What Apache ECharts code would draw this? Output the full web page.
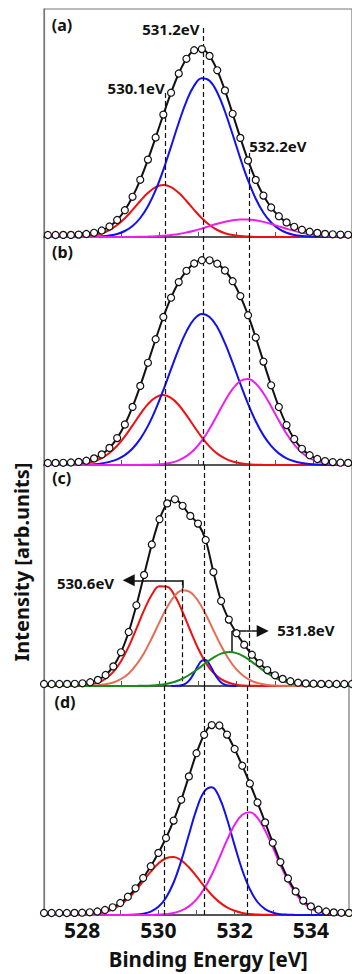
<!DOCTYPE html>
<html><head><meta charset="utf-8">
<script src="https://cdn.jsdelivr.net/npm/echarts@6.0.0/dist/echarts.min.js"></script>
<style>html,body{margin:0;padding:0;background:#fff;}#chart{width:352px;height:974px;}</style>
</head><body><div id="chart"></div>
<script>
// Binding energy grids (eV)
const energyAB = [527.1,527.3,527.5,527.7,527.9,528.1,528.3,528.5,528.7,528.9,529.1,529.3,529.5,529.7,529.9,530.1,530.3,530.5,530.7,530.9,531.1,531.3,531.5,531.7,531.9,532.1,532.3,532.5,532.7,532.9,533.1,533.3,533.5,533.7,533.9,534.1,534.3,534.5,534.7,534.9];
const energyCD = [527.0,527.2,527.4,527.6,527.8,528.0,528.2,528.4,528.6,528.8,529.0,529.2,529.4,529.6,529.8,530.0,530.2,530.4,530.6,530.8,531.0,531.2,531.4,531.6,531.8,532.0,532.2,532.4,532.6,532.8,533.0,533.2,533.4,533.6,533.8,534.0,534.2,534.4,534.6,534.8,535.0];
const energyFine = [530.3,530.4,530.5,530.6,530.7,530.8,530.9,531.0,531.1,531.2,531.3,531.4,531.5,531.6,531.7,531.8,531.9,532.0];

// Panel (a)
const aTotal = [2.0,2.0,2.1,2.1,2.4,3.0,4.2,6.5,10.5,17.0,26.8,40.2,57.2,77.4,99.5,122.4,144.3,163.5,178.2,186.8,187.9,181.1,166.7,146.6,123.2,99.1,76.6,57.1,41.4,29.5,20.8,14.6,10.2,7.3,5.3,4.1,3.1,2.7,2.4,2.2];
const aRed = [0,0,0.1,0.1,0.4,0.9,1.9,3.8,7.0,12.0,18.7,27.1,36.0,44.2,49.9,52.0,49.9,44.2,36.0,27.1,18.7,12.0,7.0,3.8,1.9,0.9,0.4,0.1,0,0,0,0,0,0,0,0,0,0,0,0];
const aBlue = [0,0,0,0,0,0.1,0.3,0.7,1.5,3.0,6.0,11.0,19.0,30.8,46.9,67.2,90.4,114.3,135.7,151.4,158.7,156.2,144.5,125.5,102.5,78.6,56.6,38.3,24.3,14.5,8.2,4.3,2.1,1.0,0.4,0.2,0,0,0,0];
const aMagenta = [0,0,0,0,0,0,0,0,0,0,0.1,0.1,0.2,0.4,0.7,1.2,2.0,3.0,4.5,6.3,8.5,10.9,13.2,15.3,16.8,17.6,17.6,16.7,15.1,13.0,10.6,8.3,6.1,4.3,2.9,1.9,1.1,0.7,0.4,0.2];

// Panel (b)
const bTotal = [2.0,2.1,2.2,2.5,3.1,4.3,6.6,10.6,17.1,26.9,40.5,58.1,79.1,102.2,125.8,148.0,167.3,182.9,194.2,201.5,204.8,204.7,201.3,194.5,183.8,168.9,149.8,127.5,103.4,79.7,58.0,39.9,26.0,16.2,9.8,6.0,3.9,2.9,2.3,2.1];
const bRed = [0,0.1,0.2,0.4,0.9,1.9,3.8,7.0,12.0,19.2,28.6,39.6,50.9,60.9,67.7,70.0,67.2,60.0,49.8,38.5,27.6,18.4,11.4,6.6,3.5,1.8,0.8,0.3,0.1,0,0,0,0,0,0,0,0,0,0,0];
const bBlue = [0,0,0,0.1,0.2,0.4,0.8,1.6,3.1,5.7,9.9,16.5,26.1,39.1,55.6,74.9,95.8,116.2,133.6,145.8,150.9,148.1,137.9,121.8,102.1,81.1,61.1,43.7,29.6,19.1,11.6,6.7,3.7,1.9,0.9,0.4,0.2,0.1,0,0];
const bMagenta = [0,0,0,0,0,0,0,0,0,0,0,0,0.1,0.2,0.5,1.1,2.3,4.7,8.8,15.2,24.3,36.2,50.0,64.1,76.2,84.0,85.9,81.5,71.7,58.6,44.4,31.2,20.3,12.3,6.9,3.6,1.7,0.8,0.3,0.1];

// Panel (c)
const cTotal = [2.0,2.0,2.0,2.1,2.2,2.7,3.8,6.1,11.0,19.6,33.7,54.0,80.7,111.1,141.5,166.8,182.6,186.7,180.2,170.1,162.4,146.0,113.9,85.0,66.4,52.8,41.3,31.3,22.9,15.9,10.7,7.1,4.8,3.3,2.6,2.3,2.1,2.0,2.0,2.0,2.0];
const cRed = [0,0,0,0.1,0.2,0.6,1.5,3.4,7.3,14.1,24.7,39.4,57.3,75.8,91.2,99.7,99.3,89.9,74.0,55.5,37.8,23.4,13.2,6.8,3.2,1.3,0.5,0.2,0.1,0,0,0,0,0,0,0,0,0,0,0,0];
const cCoral = [0,0,0,0,0,0.1,0.3,0.7,1.7,3.5,7.0,12.6,21.3,33.1,47.8,63.9,79.0,90.4,95.8,93.9,85.3,71.7,55.8,40.2,26.8,16.6,9.5,5.0,2.5,1.1,0.5,0.2,0.1,0,0,0,0,0,0,0,0];
const cBlue = [0,0.1,0.3,1.0,3.0,6.9,13.1,20.2,25.3,25.9,21.5,14.5,8.0,3.6,1.3,0.4,0.1,0];
const cGreen = [0,0,0,0,0,0,0,0,0,0,0,0,0.1,0.2,0.5,1.2,2.3,4.3,7.4,11.8,17.1,23.0,28.4,32.4,34.0,32.9,29.3,24.1,18.3,12.8,8.2,4.9,2.7,1.3,0.6,0.3,0.1,0,0,0,0];

// Panel (d)
const dTotal = [2.0,2.0,2.0,2.0,2.1,2.3,2.7,3.5,5.0,7.7,12.0,18.3,26.7,37.0,48.8,62.1,77.0,94.4,115.2,138.6,161.8,180.2,189.9,189.5,180.4,166.0,149.3,131.5,112.5,92.6,72.3,52.9,36.5,23.6,14.4,8.6,5.3,3.5,2.6,2.2,2.1];
const dRed = [0,0,0,0,0.1,0.3,0.7,1.5,3.0,5.7,10.0,16.2,24.3,33.7,43.3,51.5,56.8,57.9,54.6,47.7,38.6,28.9,20.0,12.9,7.6,4.2,2.1,1.0,0.4,0.2,0.1,0,0,0,0,0,0,0,0,0,0];
const dBlue = [0,0,0,0,0,0,0,0,0,0,0,0.1,0.4,1.3,3.4,8.2,17.3,32.5,54.2,80.3,105.6,123.2,127.7,117.5,96.0,69.6,44.9,25.7,13.0,5.9,2.4,0.8,0.3,0.1,0,0,0,0,0,0,0];
const dMagenta = [0,0,0,0,0,0,0,0,0,0,0,0,0,0,0.1,0.4,0.9,2.0,4.4,8.6,15.6,26.1,40.2,57.1,74.8,90.2,100.3,102.8,97.1,84.5,67.8,50.1,34.2,21.5,12.4,6.6,3.3,1.5,0.6,0.2,0.1];

// Reference (dashed) peak lines, eV, per panel
const peakLinesA = [530.16, 531.14, 532.32];
const peakLinesB = [530.16, 531.14, 532.32];
const peakLinesC = [530.16, 531.17, 532.32];
const peakLinesD = [530.16, 531.21, 532.32];
const shiftLineC = 530.6;
const greenPeakC = 531.885;
const xTickLabels = [528, 530, 532, 534];
const panelLabels = ['(a)', '(b)', '(c)', '(d)'];
const peakTexts = ['531.2eV', '530.1eV', '532.2eV', '530.6eV', '531.8eV'];

const FONT = "'Noto Sans', 'Open Sans', sans-serif";
const RED = '#EE1111', BLUE = '#1111EE', MAG = '#EE1EEE', CORAL = '#E46E55', GREEN = '#1A8A1A', BLK = '#111';

const chart = echarts.init(document.getElementById('chart'), null, {renderer: 'svg'});
const pairs = (xs, ys) => xs.map((x, i) => [x, ys[i]]);

const gridDefs = [
  {top: 9, height: 228},
  {top: 237, height: 228},
  {top: 465, height: 221},
  {top: 686, height: 229}
];
const yMax = gridDefs.map(g => g.height);

const grid = gridDefs.map(g => ({left: 44, top: g.top, width: 310, height: g.height,
  show: true, borderColor: '#777', borderWidth: 1.2, backgroundColor: 'transparent'}));

const xAxis = gridDefs.map((g, i) => ({
  type: 'value', gridIndex: i, min: 527, max: 535, interval: 1,
  axisLine: {show: true, lineStyle: {color: '#555', width: 2}},
  axisTick: {show: true, inside: true, length: 5, lineStyle: {color: '#555', width: 1}},
  splitLine: {show: false},
  axisLabel: {show: i === 3, margin: 4, color: BLK, fontSize: 21, fontWeight: 'bold', fontFamily: FONT,
    formatter: v => (xTickLabels.indexOf(v) >= 0 ? String(v) : '')}
}));
const yAxis = gridDefs.map((g, i) => ({
  type: 'value', gridIndex: i, min: 0, max: yMax[i],
  axisLine: {show: true, lineStyle: {color: '#777', width: 1.2}},
  axisTick: {show: false}, axisLabel: {show: false}, splitLine: {show: false}
}));

function comp(gi, xs, ys, color, z) {
  return {type: 'line', xAxisIndex: gi, yAxisIndex: gi, data: pairs(xs, ys), smooth: 0.4,
    symbol: 'none', showSymbol: false, lineStyle: {color: color, width: 2}, z: z, silent: true, animation: false};
}
const dashStyle = {type: [5, 3], color: BLK, width: 1.2};
const solidStyle = {type: 'solid', color: BLK, width: 1.5};
function vline(x, top) { return [{coord: [x, top]}, {coord: [x, 0]}]; }
function seg(x1, y1, x2, y2, style, endSym) {
  return [{coord: [x1, y1], lineStyle: style, symbol: 'none'}, {coord: [x2, y2], symbol: endSym || 'none', symbolSize: 12}];
}
function hop(x1, x2, y) {
  return [{coord: [x1, y], lineStyle: Object.assign({}, solidStyle, {curveness: 1.2}), symbol: 'none'}, {coord: [x2, y], symbol: 'none'}];
}
function total(gi, xs, ys, mlData) {
  return {type: 'line', xAxisIndex: gi, yAxisIndex: gi, data: pairs(xs, ys), smooth: 0.3,
    symbol: 'circle', symbolSize: 7, showSymbol: true, showAllSymbol: true,
    itemStyle: {color: '#fff', borderColor: BLK, borderWidth: 1.2},
    lineStyle: {color: BLK, width: 2}, z: 6, silent: true, animation: false,
    markLine: {silent: true, animation: false, symbol: 'none', label: {show: false},
      lineStyle: dashStyle, emphasis: {disabled: true}, data: mlData}};
}

const h = 105.7, hg = 55;
const series = [
  comp(0, energyAB, aRed, RED, 2), comp(0, energyAB, aBlue, BLUE, 3), comp(0, energyAB, aMagenta, MAG, 4),
  total(0, energyAB, aTotal, [vline(peakLinesA[0], 144), vline(peakLinesA[1], 209), vline(peakLinesA[2], 84)]),
  comp(1, energyAB, bRed, RED, 2), comp(1, energyAB, bBlue, BLUE, 3), comp(1, energyAB, bMagenta, MAG, 4),
  total(1, energyAB, bTotal, peakLinesB.map(x => vline(x, yMax[1]))),
  comp(2, energyCD, cRed, RED, 2), comp(2, energyCD, cCoral, CORAL, 3), comp(2, energyFine, cBlue, BLUE, 4), comp(2, energyCD, cGreen, GREEN, 5),
  total(2, energyCD, cTotal, peakLinesC.map(x => vline(x, yMax[2])).concat([
    vline(shiftLineC, h),
    seg(shiftLineC, h, shiftLineC, h - 8, solidStyle),
    seg(shiftLineC, h, 530.22, h, solidStyle),
    hop(530.09, 530.22, h),
    seg(530.09, h, 529.2, h, solidStyle, 'triangle'),
    seg(greenPeakC, 34, greenPeakC, hg, solidStyle),
    seg(greenPeakC, hg, 532.26, hg, solidStyle),
    hop(532.26, 532.39, hg),
    seg(532.39, hg, 532.68, hg, solidStyle, 'triangle')
  ])),
  comp(3, energyCD, dRed, RED, 2), comp(3, energyCD, dBlue, BLUE, 3), comp(3, energyCD, dMagenta, MAG, 4),
  total(3, energyCD, dTotal, peakLinesD.map(x => vline(x, yMax[3])))
];

function txt(t, x, y, size, extra) {
  return Object.assign({type: 'text', x: x, y: y, silent: true, z: 100,
    style: {text: t, fill: BLK, fontSize: size, fontWeight: 'bold', fontFamily: FONT, align: 'center', verticalAlign: 'middle'}}, extra || {});
}
const graphic = [
  txt(panelLabels[0], 62, 24.5, 16), txt(panelLabels[1], 62.5, 251.7, 16),
  txt(panelLabels[2], 61.7, 477.5, 16), txt(panelLabels[3], 65, 701.5, 16),
  txt(peakTexts[0], 170.8, 29.2, 15), txt(peakTexts[1], 136.2, 87.8, 15), txt(peakTexts[2], 277.8, 145.5, 15),
  txt(peakTexts[3], 85.5, 582.8, 15), txt(peakTexts[4], 305.8, 630.2, 15),
  txt('Binding Energy [eV]', 208.3, 959, 20.5),
  txt('Intensity [arb.units]', 21, 562, 20, {rotation: Math.PI / 2})
];

chart.setOption({animation: false, backgroundColor: '#fff', grid, xAxis, yAxis, series, graphic});
</script></body></html>
